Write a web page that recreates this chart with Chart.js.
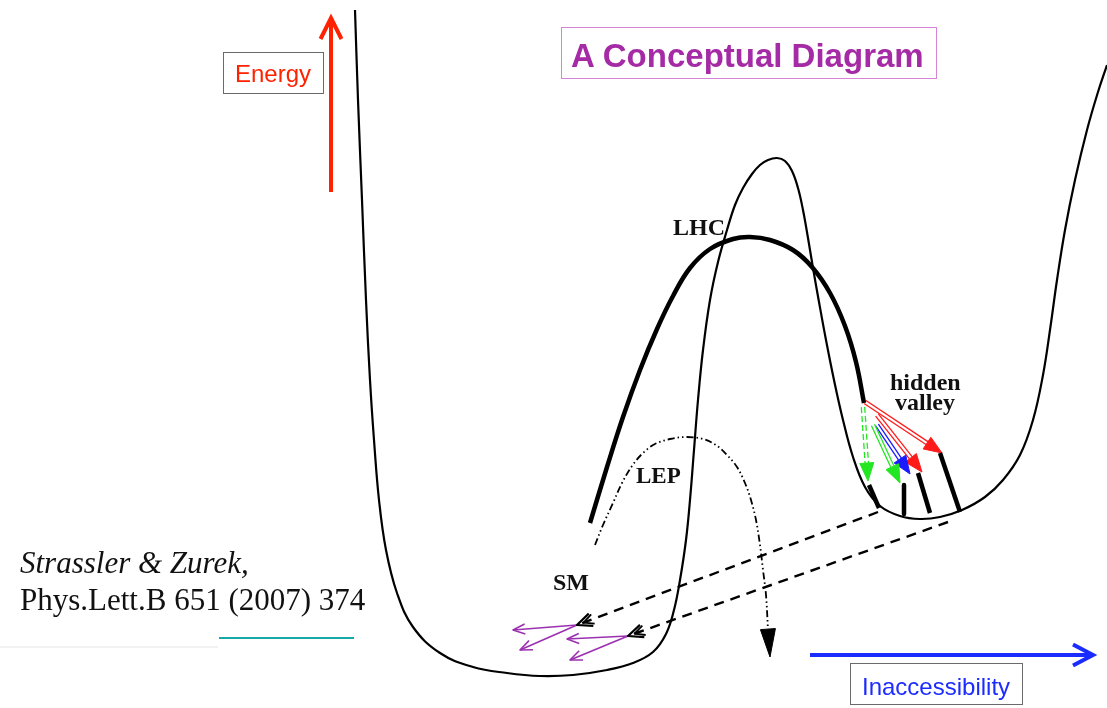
<!DOCTYPE html>
<html><head><meta charset="utf-8">
<script src="https://cdn.jsdelivr.net/npm/chart.js@4.4.1/dist/chart.umd.min.js"></script>
<style>
html,body{margin:0;padding:0;background:#fff;}
#wrap{position:relative;width:1107px;height:708px;overflow:hidden;background:#fff;}
#c{position:absolute;left:0;top:0;}
.lbl{position:absolute;white-space:nowrap;line-height:1;}
.box{position:absolute;box-sizing:border-box;}
.sans{font-family:"Liberation Sans",Arial,sans-serif;}
.serif{font-family:"Liberation Serif","Times New Roman",serif;}
</style></head><body>
<div id="wrap">
<canvas id="c" width="1107" height="708"></canvas>
<div class="box" style="left:223px;top:52px;width:101px;height:42px;border:1px solid #6a6a6a;"></div>
<div class="lbl sans" style="left:235px;top:62px;font-size:24px;color:#ff2200;">Energy</div>
<div class="box" style="left:561px;top:27px;width:376px;height:52px;border:1.5px solid #d685d6;"></div>
<div class="lbl sans" style="left:571px;top:39px;font-size:33px;font-weight:bold;color:#a52aa5;">A Conceptual Diagram</div>
<div class="box" style="left:850px;top:663px;width:173px;height:42px;border:1px solid #6a6a6a;"></div>
<div class="lbl sans" style="left:862px;top:675px;font-size:24px;color:#1c2bff;">Inaccessibility</div>
<div class="lbl serif" style="left:20px;top:547px;font-size:31px;font-style:italic;color:#111;">Strassler &amp; Zurek,</div>
<div class="lbl serif" style="left:20px;top:584px;font-size:31px;color:#111;">Phys.Lett.B 651 (2007) 374</div>
<div class="lbl serif" style="left:673px;top:215px;font-size:24px;font-weight:bold;color:#111;">LHC</div>
<div class="lbl serif" style="left:636px;top:464px;font-size:23px;font-weight:bold;color:#111;">LEP</div>
<div class="lbl serif" style="left:553px;top:570px;font-size:24px;font-weight:bold;color:#111;">SM</div>
<div class="lbl serif" style="left:890px;top:370px;font-size:24px;font-weight:bold;color:#111;">hidden</div>
<div class="lbl serif" style="left:895px;top:390px;font-size:24px;font-weight:bold;color:#111;">valley</div>
</div>
<script>
// ---- data (x = inaccessibility, y = depth from top) ----
const landscapeX = [355,358,362,366,370,374,379,386,397,413,440,473,507,540,573,607,633,653,666,674,680,686,690,694,698,703,710,718,727,735,743,752,760,768,777,785,792,798,803,808,813,819,826,834,843,853,865,880,900,920,940,962,985,1003,1020,1033,1043,1050,1057,1065,1075,1087,1098,1107];
const landscapeY = [10,100,200,300,380,440,500,550,593,627,653,667,673,676,675,670,663,652,634,610,580,540,500,450,400,350,300,262,230,205,188,174,165,160,158,161,171,188,210,238,268,302,340,380,420,457,487,506,516,519,517,510,497,480,455,420,375,330,280,230,180,130,92,65];

const lhcX = [590,607,623,640,657,673,690,710,733,750,770,793,812,830,845,856,864];
const lhcY = [523,467,417,370,329,296,268,249,239,237,240,250,267,293,326,362,403];

const lepX = [595,603,613,622,632,643,655,670,687,703,716,727,737,745,751,756,760,763,766,768];
const lepY = [545,525,503,483,466,453,444,439,437,439,445,455,467,483,500,520,545,570,595,630];
const lepTip = [770,657];

// hidden valley end segments [x1,y1,x2,y2]
const hvSegX1 = [869,904,918,940], hvSegY1 = [485,485,473,453];
const hvSegX2 = [879,904,930,960], hvSegY2 = [508,514,513,512];

// coloured decay arrows [from -> to]
const decayFromX = [863,873,877,865,877], decayFromY = [407,425,425,402,415];
const decayToX   = [868,900,910,942,922], decayToY   = [481,483,474,453,472];
const decayColor = ['#22e622','#22e622','#1a1aff','#ff1a1a','#ff1a1a'];
const decayDashed = [true,false,false,false,false];

// dashed return lines
const backFromX = [878,948], backFromY = [512,522];
const backToX = [577,628], backToY = [625,636];

// SM purple arrows
const smFromX = [577,577,628,628], smFromY = [625,625,636,636];
const smToX = [513,520,567,570], smToY = [630,650,639,660];

// axes arrows
const energyX = [331,331], energyY = [192,18];
const inaccX = [810,1093], inaccY = [655,655];

// ---- helpers ----
function pts(xs, ys){ return xs.map((x,i)=>({x:x, y:ys[i]})); }
function ds(data, color, width, extra){
  return Object.assign({data:data, borderColor:color, backgroundColor:color, borderWidth:width,
    showLine:true, pointRadius:0, pointHoverRadius:0, fill:false, tension:0,
    borderCapStyle:'butt', borderJoinStyle:'round'}, extra||{});
}
function headPts(x1,y1,x2,y2,len,half){
  const dx=x2-x1, dy=y2-y1, d=Math.hypot(dx,dy), ux=dx/d, uy=dy/d;
  const bx=x2-ux*len, by=y2-uy*len;
  return [{x:bx-uy*half,y:by+ux*half},{x:x2,y:y2},{x:bx+uy*half,y:by-ux*half}];
}
function shift(x1,y1,x2,y2,off){
  const dx=x2-x1, dy=y2-y1, d=Math.hypot(dx,dy), nx=-dy/d*off, ny=dx/d*off;
  return [{x:x1+nx,y:y1+ny},{x:x2+nx,y:y2+ny}];
}

const datasets = [];
// landscape
datasets.push(ds(pts(landscapeX, landscapeY), '#000', 2.2, {tension:0.4}));
// LHC
datasets.push(ds(pts(lhcX, lhcY), '#000', 4.5, {tension:0.4}));
// LEP
datasets.push(ds(pts(lepX, lepY), '#000', 1.8, {tension:0.35, borderDash:[7,3,1.5,3,1.5,3]}));
{
  const n = lepX.length-1;
  const h = headPts(lepX[n], lepY[n], lepTip[0], lepTip[1], 28, 7.5);
  datasets.push(ds([h[0],h[1],h[2],h[0]], '#000', 1, {fill:'shape'}));
  datasets.push(ds([{x:lepX[n],y:lepY[n]},{x:lepTip[0],y:lepTip[1]-20}], '#000', 1.8));
}
// hidden valley segments
for (let i=0;i<hvSegX1.length;i++){
  datasets.push(ds([{x:hvSegX1[i],y:hvSegY1[i]},{x:hvSegX2[i],y:hvSegY2[i]}], '#000', 4.5));
}
// decay arrows (double lines + filled heads)
for (let i=0;i<decayFromX.length;i++){
  const x1=decayFromX[i], y1=decayFromY[i], x2=decayToX[i], y2=decayToY[i];
  const c = decayColor[i];
  const dx=x2-x1, dy=y2-y1, d=Math.hypot(dx,dy);
  const ex = x2-dx/d*14, ey = y2-dy/d*14;
  const extra = decayDashed[i] ? {borderDash:[6,3]} : {};
  datasets.push(ds(shift(x1,y1,ex,ey,1.7), c, 1.3, extra));
  datasets.push(ds(shift(x1,y1,ex,ey,-1.7), c, 1.3, extra));
  const h = headPts(x1,y1,x2,y2,18,7);
  datasets.push(ds([h[0],h[1],h[2],h[0]], c, 1, {fill:'shape'}));
}
// dashed return lines with feathered heads
for (let i=0;i<backFromX.length;i++){
  const x1=backFromX[i], y1=backFromY[i], x2=backToX[i], y2=backToY[i];
  datasets.push(ds([{x:x1,y:y1},{x:x2,y:y2}], '#000', 2.4, {borderDash:[10,7]}));
  const h1 = headPts(x1,y1,x2,y2,15,6.5);
  datasets.push(ds(h1, '#000', 2.2));
  const dx=x2-x1, dy=y2-y1, d=Math.hypot(dx,dy);
  const h2 = headPts(x1,y1,x2-dx/d*7,y2-dy/d*7,10,5);
  datasets.push(ds(h2, '#000', 1.8));
}
// SM purple arrows
for (let i=0;i<smFromX.length;i++){
  const x1=smFromX[i], y1=smFromY[i], x2=smToX[i], y2=smToY[i];
  datasets.push(ds([{x:x1,y:y1},{x:x2,y:y2}], '#9b30b0', 1.6));
  datasets.push(ds(headPts(x1,y1,x2,y2,12,5), '#9b30b0', 1.6));
}
// energy arrow
datasets.push(ds(pts(energyX, energyY), '#ff2200', 4));
datasets.push(ds(headPts(energyX[0],energyY[0],energyX[1],energyY[1],21,10.5), '#ff2200', 4, {borderJoinStyle:'miter'}));
// inaccessibility arrow
datasets.push(ds(pts(inaccX, inaccY), '#1a2cff', 4));
datasets.push(ds(headPts(inaccX[0],inaccY[0],inaccX[1],inaccY[1],20,10.5), '#1a2cff', 4, {borderJoinStyle:'miter'}));
// citation rules
datasets.push(ds([{x:0,y:647},{x:218,y:647}], '#e4e4e4', 1));
datasets.push(ds([{x:219,y:638},{x:354,y:638}], '#19a8a8', 2));

new Chart(document.getElementById('c').getContext('2d'), {
  type:'scatter',
  data:{datasets:datasets},
  options:{
    responsive:false, animation:false, events:[],
    layout:{padding:0},
    plugins:{legend:{display:false}, tooltip:{enabled:false}, title:{display:false}},
    scales:{
      x:{type:'linear', min:0, max:1107, display:false},
      y:{type:'linear', min:0, max:708, reverse:true, display:false}
    }
  }
});
</script>
</body></html>
